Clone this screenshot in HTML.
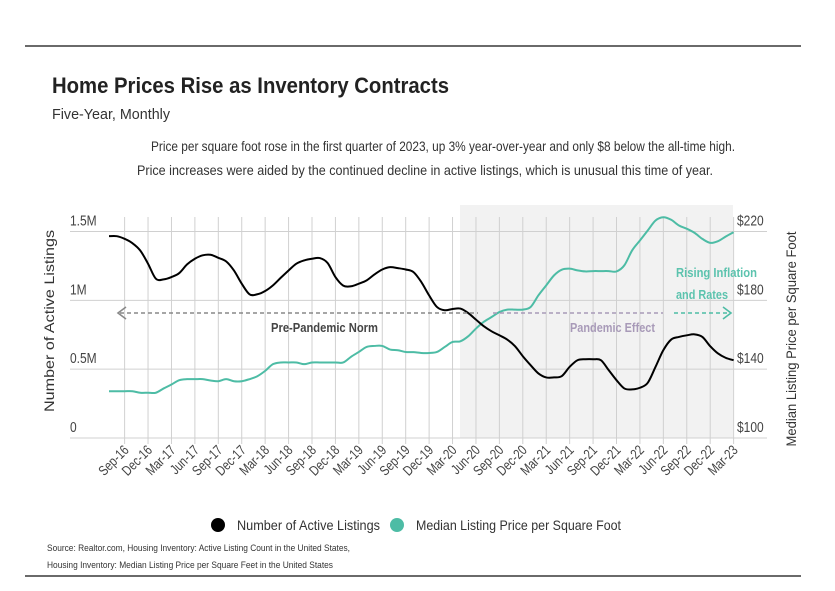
<!DOCTYPE html>
<html><head><meta charset="utf-8">
<style>
body{margin:0;background:#fff;}
svg{display:block;font-family:"Liberation Sans Narrow","Liberation Sans",sans-serif;}
</style></head>
<body>
<svg id="chart" width="835" height="591" viewBox="0 0 835 591">
<line x1="25" y1="46" x2="801" y2="46" stroke="#111" stroke-width="1.2"/>
<text x="52" y="93" font-size="22" font-weight="bold" fill="#222" textLength="397" lengthAdjust="spacingAndGlyphs">Home Prices Rise as Inventory Contracts</text>
<text x="52" y="119" font-size="15" fill="#333" textLength="118" lengthAdjust="spacingAndGlyphs">Five-Year, Monthly</text>
<text x="151" y="151" font-size="14" fill="#333" textLength="584" lengthAdjust="spacingAndGlyphs">Price per square foot rose in the first quarter of 2023, up 3% year-over-year and only $8 below the all-time high.</text>
<text x="137" y="175" font-size="14" fill="#333" textLength="576" lengthAdjust="spacingAndGlyphs">Price increases were aided by the continued decline in active listings, which is unusual this time of year.</text>
<rect x="460" y="205" width="273" height="233" fill="#f2f2f2"/>
<g id="grid"></g>
<g id="axes"></g>
<g id="series"></g>
<g>
<line x1="120" y1="313" x2="478" y2="313" stroke="#888" stroke-width="1.6" stroke-dasharray="4,3"/>
<polyline points="126,307 118,313 126,319" fill="none" stroke="#888" stroke-width="1.6"/>
<text x="271" y="332" font-size="13" font-weight="bold" fill="#444" textLength="107" lengthAdjust="spacingAndGlyphs">Pre-Pandemic Norm</text>
<line x1="493" y1="313" x2="663" y2="313" stroke="#a89ab8" stroke-width="1.6" stroke-dasharray="4,3"/>
<text x="570" y="332" font-size="13" font-weight="bold" fill="#a89ab8" textLength="85" lengthAdjust="spacingAndGlyphs">Pandemic Effect</text>
<line x1="674" y1="313" x2="730" y2="313" stroke="#4dbca5" stroke-width="1.6" stroke-dasharray="4,3"/>
<polyline points="723,307 731,313 723,319" fill="none" stroke="#4dbca5" stroke-width="1.6"/>
<text x="676" y="277" font-size="13" font-weight="bold" fill="#5cc3ae" textLength="81" lengthAdjust="spacingAndGlyphs">Rising Inflation</text>
<text x="676" y="299" font-size="13" font-weight="bold" fill="#5cc3ae" textLength="52" lengthAdjust="spacingAndGlyphs">and Rates</text>
</g>
<text transform="translate(54,321) rotate(-90)" font-size="14" fill="#333" text-anchor="middle" textLength="182" lengthAdjust="spacingAndGlyphs">Number of Active Listings</text>
<text transform="translate(796,339) rotate(-90)" font-size="14" fill="#333" text-anchor="middle" textLength="215" lengthAdjust="spacingAndGlyphs">Median Listing Price per Square Foot</text>
<g>
<circle cx="218" cy="525" r="7" fill="#000"/>
<text x="237" y="530" font-size="14" fill="#333" textLength="143" lengthAdjust="spacingAndGlyphs">Number of Active Listings</text>
<circle cx="397" cy="525" r="7" fill="#4dbca5"/>
<text x="416" y="530" font-size="14" fill="#333" textLength="205" lengthAdjust="spacingAndGlyphs">Median Listing Price per Square Foot</text>
</g>
<text x="47" y="551" font-size="9.5" fill="#333" textLength="303" lengthAdjust="spacingAndGlyphs">Source:  Realtor.com, Housing Inventory: Active Listing Count in the United States,</text>
<text x="47" y="568" font-size="9.5" fill="#333" textLength="286" lengthAdjust="spacingAndGlyphs">Housing Inventory: Median Listing Price per Square Feet in the United States</text>
<line x1="25" y1="576" x2="801" y2="576" stroke="#111" stroke-width="1.2"/>
</svg>
<script>
const listings = [1.466,1.466,1.447,1.415,1.362,1.266,1.157,1.152,1.169,1.198,1.261,1.302,1.327,1.331,1.309,1.283,1.217,1.121,1.044,1.044,1.068,1.109,1.164,1.217,1.266,1.290,1.302,1.307,1.271,1.169,1.107,1.102,1.121,1.145,1.188,1.224,1.241,1.234,1.224,1.205,1.133,1.036,0.952,0.928,0.937,0.940,0.908,0.860,0.812,0.775,0.746,0.715,0.667,0.594,0.529,0.469,0.440,0.440,0.450,0.517,0.565,0.572,0.572,0.565,0.493,0.420,0.360,0.353,0.365,0.401,0.517,0.638,0.715,0.734,0.746,0.753,0.734,0.667,0.614,0.582,0.565];
const prices = [127.2,127.2,127.2,127.2,126.3,126.3,126.3,128.8,131.1,133.6,134.2,134.2,134.2,133.4,133.0,134.2,133.0,133.0,134.2,135.9,139.0,142.9,143.9,143.9,143.9,142.9,143.9,143.9,143.9,143.9,143.9,147.2,150.0,152.9,153.5,153.5,151.4,151.0,150.0,149.9,149.4,149.4,150.0,152.9,155.8,156.2,159.1,163.6,167.5,170.3,173.2,174.6,174.6,174.6,176.1,182.9,188.7,194.5,197.8,198.4,197.4,196.8,197.0,197.0,197.0,196.8,200.3,209.0,214.8,220.6,226.4,228.3,226.8,223.5,221.6,219.2,215.7,213.4,214.4,217.1,219.6];
const xLabels = ["Sep-16","Dec-16","Mar-17","Jun-17","Sep-17","Dec-17","Mar-18","Jun-18","Sep-18","Dec-18","Mar-19","Jun-19","Sep-19","Dec-19","Mar-20","Jun-20","Sep-20","Dec-20","Mar-21","Jun-21","Sep-21","Dec-21","Mar-22","Jun-22","Sep-22","Dec-22","Mar-23"];
const leftTicks = [0,0.5,1,1.5];
const leftTickLabels = ["0","0.5M","1M","1.5M"];
const rightTicks = [100,140,180,220];
const rightTickLabels = ["$100","$140","$180","$220"];

const NS="http://www.w3.org/2000/svg";
const X0=109, DX=(733-124)/78, Y0=438, YT=231.5;
const xm = i => X0 + DX*i;
const yL = v => Y0 - (v/1.5)*(Y0-YT);
const yR = v => Y0 - ((v-100)/120)*(Y0-YT);
function mk(tag, attrs, parent){const e=document.createElementNS(NS,tag);for(const k in attrs)e.setAttribute(k,attrs[k]);parent.appendChild(e);return e;}
const grid=document.getElementById('grid'), axes=document.getElementById('axes'), series=document.getElementById('series');

leftTicks.forEach((t,k)=>{
  const y=yL(t);
  const l=mk('line',{x1:70,x2:767,y1:y,y2:y,stroke:'#d0d0d0','stroke-width':1},grid);
  
  
  const tx=mk('text',{transform:`translate(70,${y-6}) scale(0.8,1)`,'font-size':15,fill:'#444'},axes);
  tx.textContent=leftTickLabels[k];
  
  
});
rightTicks.forEach((t,k)=>{
  const tx=mk('text',{transform:`translate(737,${yR(t)-6}) scale(0.8,1)`,'font-size':15,fill:'#444'},axes);
  tx.textContent=rightTickLabels[k];
  
  
});
xLabels.forEach((lab,k)=>{
  const x=xm(2+3*k);
  const l=mk('line',{x1:x,x2:x,y1:217,y2:444,stroke:'#d0d0d0','stroke-width':1},grid);
  
  
  const tx=mk('text',{x:0,y:0,'font-size':14,fill:'#444','text-anchor':'end',transform:`translate(${x+5},${451}) rotate(-45) scale(0.8,1)`},axes);
  tx.textContent=lab;
  
  
});
function path(arr, yf){
  const p=arr.map((v,i)=>[xm(i),yf(v)]);
  let d=`M${p[0][0]},${p[0][1]}`;
  for(let i=0;i<p.length-1;i++){
    const p0=p[Math.max(0,i-1)],p1=p[i],p2=p[i+1],p3=p[Math.min(p.length-1,i+2)];
    const c1=[p1[0]+(p2[0]-p0[0])/6,p1[1]+(p2[1]-p0[1])/6];
    const c2=[p2[0]-(p3[0]-p1[0])/6,p2[1]-(p3[1]-p1[1])/6];
    d+=` C${c1[0]},${c1[1]} ${c2[0]},${c2[1]} ${p2[0]},${p2[1]}`;
  }
  return d;
}
const pp=mk('path',{d:path(prices,yR),fill:'none',stroke:'#4dbca5','stroke-width':2},series);


const lp=mk('path',{d:path(listings,yL),fill:'none',stroke:'#000','stroke-width':2},series);


</script>
</body></html>
